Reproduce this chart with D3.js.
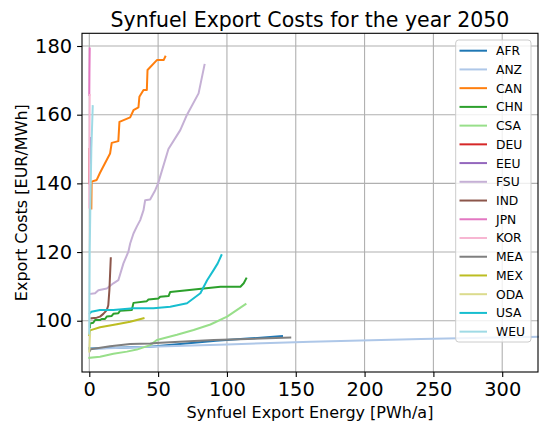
<!DOCTYPE html>
<html>
<head>
<meta charset="utf-8">
<script src="https://cdn.jsdelivr.net/npm/d3@7"></script>
<style>
  body { margin: 0; background: #fff; }
  svg { font-family: "DejaVu Sans", sans-serif; }
</style>
</head>
<body>
<svg id="chart" width="550" height="433"></svg>
<script>
// regions in plotting order (legend order)
const regions = ["AFR", "ANZ", "CAN", "CHN", "CSA", "DEU", "EEU", "FSU", "IND", "JPN", "KOR", "MEA", "MEX", "ODA", "USA", "WEU"];
const colors = ["#1f77b4", "#aec7e8", "#ff7f0e", "#2ca02c", "#98df8a", "#d62728", "#9467bd", "#c5b0d5",
                "#8c564b", "#e377c2", "#f7b6d2", "#7f7f7f", "#bcbd22", "#dbdb8d", "#17becf", "#9edae5"];

const xTicks = [0, 50, 100, 150, 200, 250, 300];
const yTicks = [100, 120, 140, 160, 180];

// cumulative export energy [PWh/a] and cost [EUR/MWh]
const AFR_energy = [0, 20, 44, 70, 92, 115, 140];
const AFR_cost   = [91.9, 92.1, 92.4, 93.4, 94.2, 94.8, 95.5];
const ANZ_energy = [0, 44, 100, 161, 241, 326];
const ANZ_cost   = [91.8, 92.4, 93.1, 93.9, 94.7, 95.3];
const CAN_energy = [1.5, 1.7, 5.4, 7.8, 15.1, 16.3, 21.1, 21.9, 29.7, 32.1, 35.7, 36.4, 39.4, 41.8, 42.3, 49.1, 54.0, 55.2];
const CAN_cost   = [132.7, 140.5, 141.0, 143.1, 148.7, 151.8, 152.3, 157.9, 159.2, 161.3, 162.1, 165.2, 167.2, 167.2, 173.0, 175.9, 175.9, 176.9];
const CHN_energy = [0.5, 0.5, 2.9, 4.2, 7.8, 9.0, 11.4, 12.7, 16.3, 17.5, 21.1, 22.4, 30.9, 32.1, 41.8, 43.0, 50.3, 51.5, 57.6, 58.8, 71.0, 83.1, 95.3, 109.8, 112.2, 114.0];
const CHN_cost   = [98.1, 99.2, 99.4, 100.2, 100.2, 100.5, 100.5, 101.2, 101.4, 102.0, 102.2, 102.9, 103.1, 105.2, 105.7, 106.2, 106.5, 107.0, 107.2, 108.4, 108.9, 109.4, 109.9, 109.9, 110.9, 112.3];
const CSA_energy = [0, 7.8, 17.5, 27.3, 34.5, 44.3, 49.1, 63.7, 75.8, 88.0, 100.1, 113.5];
const CSA_cost   = [89.2, 89.5, 90.4, 91.0, 91.6, 92.9, 94.4, 95.9, 97.3, 98.9, 101.2, 104.8];
const DEU_energy = [0, 0.2];
const DEU_cost   = [140, 150];
const EEU_energy = [0.8, 1.0, 1.2];
const EEU_cost   = [146.0, 149.0, 153.2];
const FSU_energy = [0.5, 4.2, 6.6, 12.7, 17.5, 21.1, 24.8, 28.4, 29.7, 32.1, 34.5, 37.0, 39.4, 40.6, 44.2, 47.9, 50.0, 57.5, 66.1, 71.0, 79.4, 83.7];
const FSU_cost   = [107.8, 108.0, 108.9, 109.4, 110.9, 111.8, 116.7, 120.1, 122.5, 125.4, 127.4, 129.3, 132.2, 135.1, 135.3, 138.0, 140.0, 150.0, 155.5, 160.0, 166.2, 174.5];
const IND_energy = [1.5, 5.4, 7.8, 10.2, 12.7, 13.8, 14.6, 15.6];
const IND_cost   = [100.7, 100.9, 101.2, 102.0, 103.1, 104.5, 108.9, 118.2];
const JPN_energy = [0, 0.1, 0.3];
const JPN_cost   = [165.7, 172.0, 179.3];
const KOR_energy = [0, 0.1, 0.3];
const KOR_cost   = [133.0, 150.0, 165.7];
const MEA_energy = [0.5, 1.0, 15.1, 29.7, 44.3, 51.5, 90.4, 124.4, 146.0];
const MEA_cost   = [91.3, 91.7, 92.6, 93.2, 93.4, 93.6, 94.4, 94.8, 95.1];
const MEX_energy = [0, 0.5, 7.8, 20.0, 29.7, 39.4];
const MEX_cost   = [95.8, 97.2, 98.1, 99.0, 99.7, 100.7];
const ODA_energy = [0, 0.3, 0.6];
const ODA_cost   = [91.0, 94.0, 96.3];
const USA_energy = [0.5, 1.5, 7.8, 17.5, 32.1, 46.6, 58.8, 71.0, 80.7, 85.6, 90.4, 93.3, 96.0];
const USA_cost   = [102.2, 102.6, 103.1, 103.1, 103.6, 103.6, 104.1, 105.1, 108.0, 111.8, 114.8, 116.7, 119.1];
const WEU_energy = [0, 0.3, 0.8, 1.5, 2.5];
const WEU_cost   = [96.3, 120.0, 134.0, 150.0, 162.5];

const energies = [AFR_energy, ANZ_energy, CAN_energy, CHN_energy, CSA_energy, DEU_energy, EEU_energy, FSU_energy,
                  IND_energy, JPN_energy, KOR_energy, MEA_energy, MEX_energy, ODA_energy, USA_energy, WEU_energy];
const costs = [AFR_cost, ANZ_cost, CAN_cost, CHN_cost, CSA_cost, DEU_cost, EEU_cost, FSU_cost,
               IND_cost, JPN_cost, KOR_cost, MEA_cost, MEX_cost, ODA_cost, USA_cost, WEU_cost];

const series = regions.map((r, i) => ({
  name: r,
  color: colors[i],
  values: energies[i].map((e, j) => [e, costs[i][j]])
}));

const plotLeft = 82, plotRight = 538, plotTop = 33.3, plotBottom = 372;

const svg = d3.select("#chart");

var xscale = d3.scaleLinear().domain([-5.3, 326]).range([plotLeft, plotRight]);
var yscale = d3.scaleLinear().domain([85.07, 183.7]).range([plotBottom, plotTop]);

// grid
svg.append("g").selectAll("line").data(xTicks).join("line")
  .attr("x1", d => xscale(d)).attr("x2", d => xscale(d))
  .attr("y1", plotTop).attr("y2", plotBottom)
  .attr("stroke", "#b0b0b0").attr("stroke-width", 1.1);
svg.append("g").selectAll("line").data(yTicks).join("line")
  .attr("y1", d => yscale(d)).attr("y2", d => yscale(d))
  .attr("x1", plotLeft).attr("x2", plotRight)
  .attr("stroke", "#b0b0b0").attr("stroke-width", 1.1);

// lines
const line = d3.line().x(d => xscale(d[0])).y(d => yscale(d[1]));
const plot = svg.append("g");
plot.selectAll("path").data(series).join("path")
  .attr("d", d => line(d.values))
  .attr("fill", "none")
  .attr("stroke", d => d.color)
  .attr("stroke-width", 2)
  .attr("stroke-linejoin", "round")
  .attr("stroke-linecap", "square");

// frame
svg.append("rect")
  .attr("x", plotLeft).attr("y", plotTop)
  .attr("width", plotRight - plotLeft).attr("height", plotBottom - plotTop)
  .attr("fill", "none").attr("stroke", "#000").attr("stroke-width", 1.1);

// axes
const xAxis = svg.append("g").attr("transform", `translate(0, ${plotBottom})`)
  .call(d3.axisBottom(xscale).tickValues(xTicks).tickSize(4.9).tickPadding(5).tickSizeOuter(0));
const yAxis = svg.append("g").attr("transform", `translate(${plotLeft}, 0)`)
  .call(d3.axisLeft(yscale).tickValues(yTicks).tickSize(4.9).tickPadding(5).tickSizeOuter(0));
[xAxis, yAxis].forEach(a => {
  a.select(".domain").remove();
  a.selectAll(".tick line").attr("stroke", "#000").attr("stroke-width", 1.1);
  a.selectAll(".tick text").attr("fill", "#000")
    .style("font-family", "DejaVu Sans").style("font-size", "19.4px");
});

// title and labels
svg.append("text")
  .attr("x", (plotLeft + plotRight) / 2).attr("y", 27)
  .attr("text-anchor", "middle")
  .style("font-size", "20.5px")
  .text("Synfuel Export Costs for the year 2050");

svg.append("text")
  .attr("x", (plotLeft + plotRight) / 2).attr("y", 417.5)
  .attr("text-anchor", "middle")
  .style("font-size", "16px")
  .text("Synfuel Export Energy [PWh/a]");

svg.append("text")
  .attr("transform", `translate(27, ${(plotTop + plotBottom) / 2}) rotate(-90)`)
  .attr("text-anchor", "middle")
  .style("font-size", "16px")
  .text("Export Costs [EUR/MWh]");

// legend
const legend = svg.append("g");
legend.append("rect")
  .attr("x", 455.7).attr("y", 40)
  .attr("width", 75.3).attr("height", 302)
  .attr("rx", 3)
  .attr("fill", "#fff").attr("fill-opacity", 0.8)
  .attr("stroke", "#cccccc").attr("stroke-width", 1);

const rowY = i => 50.7 + i * 18.73;
const items = legend.selectAll(".item").data(series).join("g").attr("class", "item");
items.append("line")
  .attr("x1", 459.5).attr("x2", 487)
  .attr("y1", (d, i) => rowY(i)).attr("y2", (d, i) => rowY(i))
  .attr("stroke", d => d.color).attr("stroke-width", 2);
items.append("text")
  .attr("x", 496).attr("y", (d, i) => rowY(i))
  .attr("dy", "0.36em")
  .style("font-size", "12.3px")
  .text(d => d.name);
</script>
</body>
</html>
